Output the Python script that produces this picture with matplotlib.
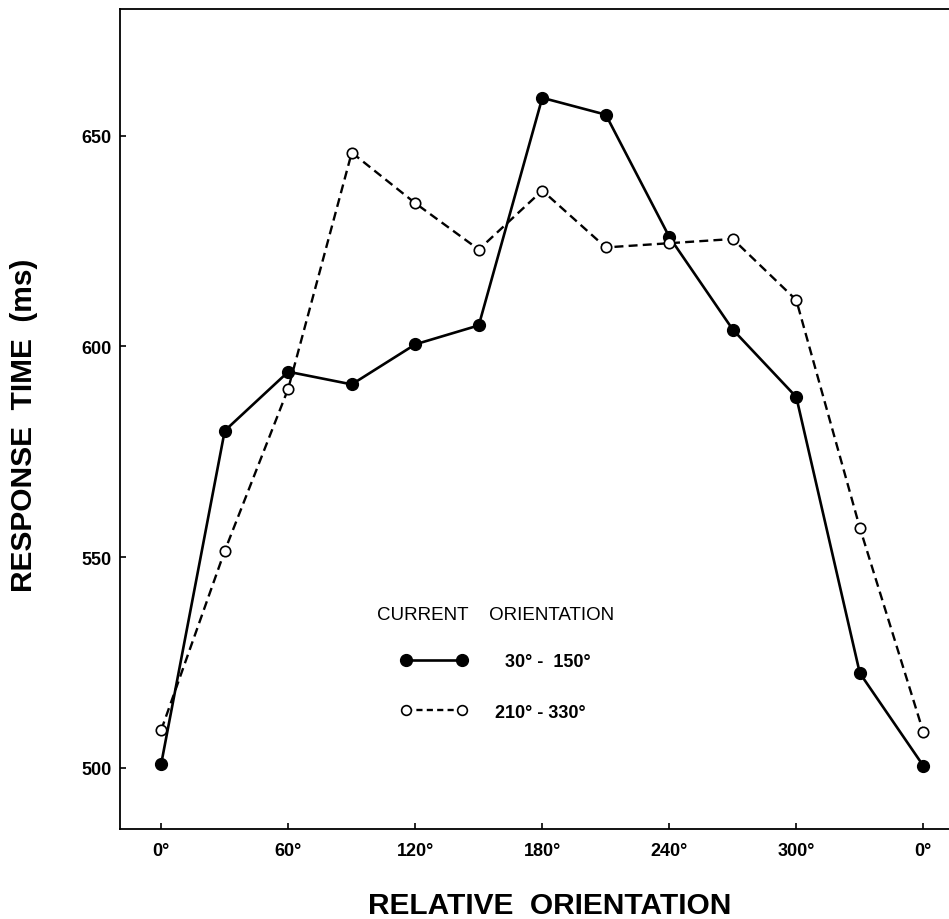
import matplotlib.pyplot as plt
from matplotlib.lines import Line2D

plt.rcParams['font.family'] = ['Liberation Sans', 'DejaVu Sans']

# relative orientation in degrees, one point every 30 deg
orientation = [0, 30, 60, 90, 120, 150, 180, 210, 240, 270, 300, 330, 360]
tick_pos = [0, 60, 120, 180, 240, 300, 360]
tick_labels = ['0°', '60°', '120°', '180°', '240°', '300°', '0°']

# response times (ms) for the two current-orientation groups
rt_30_150 = [501, 580, 594, 591, 600.5, 605, 659, 655, 626, 604, 588, 522.5, 500.5]
rt_210_330 = [509, 551.5, 590, 646, 634, 623, 637, 623.5, 624.5, 625.5, 611, 557, 508.5]

fig = plt.figure(figsize=(9.49, 9.2), dpi=100)
ax = fig.add_axes([0.1264, 0.0978, 0.88, 0.891])

ax.plot(orientation, rt_30_150, '-', color='black', lw=1.9,
        marker='o', ms=8.5, mfc='black', mec='black')
ax.plot(orientation, rt_210_330, '--', color='black', lw=1.7, dashes=(3.8, 2.2),
        marker='o', ms=7.5, mfc='white', mec='black', mew=1.2)

ax.set_xlim(-19.5, 375)
ax.set_ylim(485.5, 680)
ax.set_xticks(tick_pos)
ax.set_xticklabels(tick_labels, fontsize=13, fontweight='bold')
ax.set_yticks([500, 550, 600, 650])
ax.set_yticklabels(['500', '550', '600', '650'], fontsize=13, fontweight='bold')
ax.tick_params(direction='in', length=4, width=1.2)
ax.tick_params(axis='x', pad=9)
ax.tick_params(axis='y', pad=6)
ax.spines['right'].set_visible(False)
for s in ['left', 'top', 'bottom']:
    ax.spines[s].set_linewidth(1.3)

ax.set_xlabel('RELATIVE  ORIENTATION', fontsize=21.5, fontweight='bold')
ax.set_ylabel('RESPONSE  TIME  (ms)', fontsize=21.5, fontweight='bold')
ax.xaxis.set_label_coords(0.515, -0.075)
ax.yaxis.set_label_coords(-0.098, 0.494)

handles = [
    Line2D([], [], color='black', lw=1.9, marker='o', ms=8.5, mfc='black', mec='black'),
    Line2D([], [], color='black', lw=1.7, ls='--', dashes=(2.6, 1.8), marker='o', ms=7,
           mfc='white', mec='black', mew=1.2),
]
leg = ax.legend(handles, ['  30° -  150°', '210° - 330°'],
                title='CURRENT    ORIENTATION', frameon=False, numpoints=2,
                loc='center', bbox_to_anchor=(0.450, 0.2024), borderpad=0,
                handlelength=3.7, handletextpad=1.5, labelspacing=1.85,
                prop={'size': 13, 'weight': 'bold'})
leg.get_title().set_fontsize(13.5)
leg._legend_box.sep = 22

fig.savefig('out.png', dpi=100)
